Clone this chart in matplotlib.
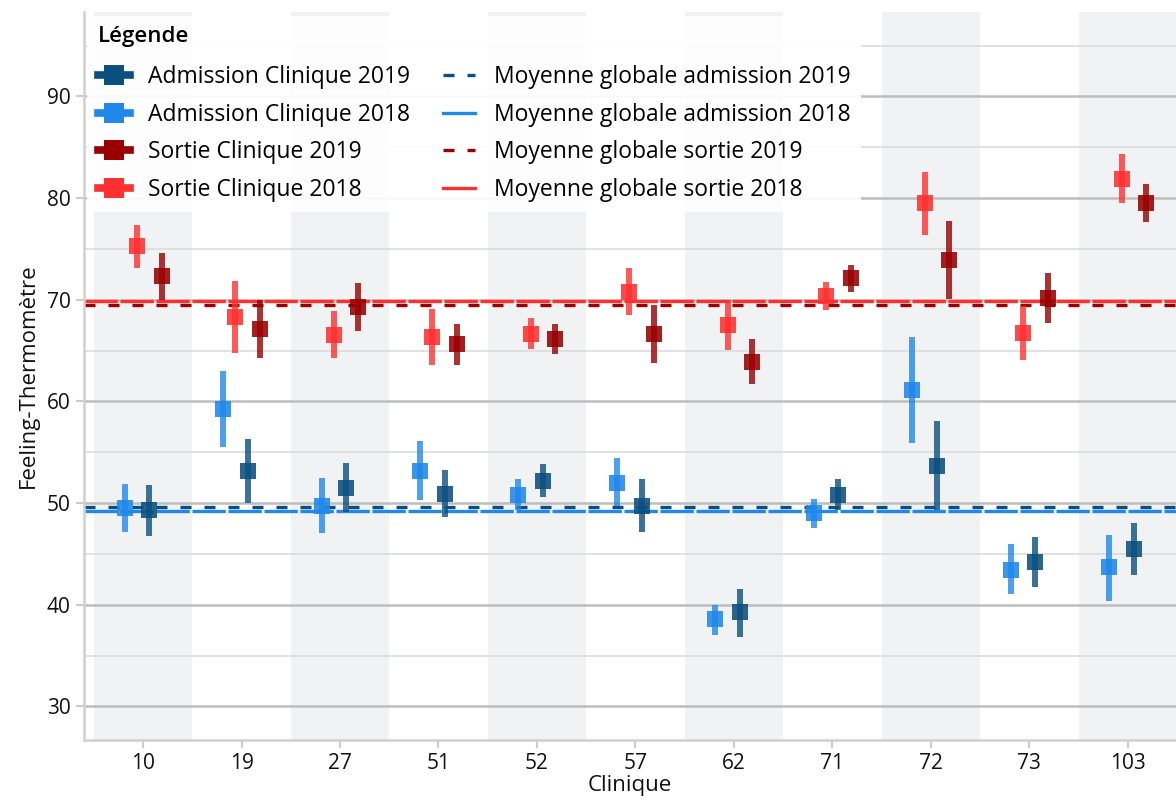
import matplotlib

matplotlib.use("Agg")
import matplotlib.pyplot as plt
import numpy as np
from matplotlib.lines import Line2D

# ---- data -----------------------------------------------------------------
CLINIQUES = ["10", "19", "27", "51", "52", "57", "62", "71", "72", "73", "103"]

ADM_2018 = [49.55, 59.25, 49.7, 53.2, 50.8, 52.0, 38.6, 49.0, 61.1, 43.45, 43.7]
ADM_2018_LO = [47.2, 55.5, 47.1, 50.3, 49.3, 49.7, 37.05, 47.5, 55.9, 41.05, 40.4]
ADM_2018_HI = [51.9, 63.0, 52.5, 56.1, 52.35, 54.4, 40.0, 50.4, 66.3, 46.0, 46.85]

ADM_2019 = [49.3, 53.2, 51.5, 50.9, 52.2, 49.75, 39.3, 50.75, 53.65, 44.2, 45.5]
ADM_2019_LO = [46.8, 50.05, 49.1, 48.6, 50.6, 47.2, 36.85, 49.3, 49.3, 41.7, 42.95]
ADM_2019_HI = [51.8, 56.3, 53.9, 53.3, 53.8, 52.35, 41.5, 52.35, 58.1, 46.7, 48.0]

SORTIE_2018 = [75.3, 68.3, 66.5, 66.35, 66.6, 70.8, 67.5, 70.35, 79.5, 66.75, 81.85]
SORTIE_2018_LO = [73.1, 64.8, 64.3, 63.6, 65.2, 68.5, 65.1, 69.0, 76.4, 64.1, 79.55]
SORTIE_2018_HI = [77.4, 71.8, 68.9, 69.1, 68.2, 73.1, 70.0, 71.7, 82.6, 69.4, 84.3]

SORTIE_2019 = [72.35, 67.1, 69.3, 65.6, 66.1, 66.6, 63.9, 72.15, 73.9, 70.2, 79.5]
SORTIE_2019_LO = [70.0, 64.3, 66.9, 63.6, 64.65, 63.8, 61.7, 70.8, 70.05, 67.7, 77.65]
SORTIE_2019_HI = [74.6, 70.0, 71.6, 67.6, 67.6, 69.5, 66.1, 73.45, 77.75, 72.65, 81.4]

MEAN_ADM_2019 = 49.6
MEAN_ADM_2018 = 49.2
MEAN_SORTIE_2019 = 69.45
MEAN_SORTIE_2018 = 69.85

# ---- style ----------------------------------------------------------------
COL_ADM_2019 = "#0b4f7f"
COL_ADM_2018 = "#1f88ea"
COL_SORTIE_2019 = "#990000"
COL_SORTIE_2018 = "#ff3030"
BAND_COLOR = "#f1f2f4"

FONT = ["Open Sans", "DejaVu Sans"]
plt.rcParams["font.family"] = FONT

fig = plt.figure(figsize=(11.76, 8.06), dpi=100)
ax = fig.add_axes([0.0714, 0.082, 0.9286, 0.903])

x = np.arange(len(CLINIQUES))
xmin, xmax = -0.6, 10.49
ymin, ymax = 26.7, 98.3

# alternating background bands
for i in range(0, len(CLINIQUES), 2):
    ax.axvspan(i - 0.5, i + 0.5, color=BAND_COLOR, zorder=0, lw=0)

# grid
for v in range(30, 100, 10):
    ax.axhline(v, color="#bdbdbd", lw=1.8, zorder=1)
for v in range(35, 100, 10):
    ax.axhline(v, color="#dcdcdc", lw=1.2, zorder=1)

# global means
seg = (0, (10, 0.8))
dash = (0, (3.3, 3.9))
ax.axhline(MEAN_ADM_2018, color=COL_ADM_2018, lw=2.4, ls=seg, zorder=2)
ax.axhline(MEAN_ADM_2019, color=COL_ADM_2019, lw=2.4, ls=dash, zorder=2)
ax.axhline(MEAN_SORTIE_2018, color=COL_SORTIE_2018, lw=2.4, ls=seg, zorder=2)
ax.axhline(MEAN_SORTIE_2019, color=COL_SORTIE_2019, lw=2.4, ls=dash, zorder=2)

series = [
    (ADM_2018, ADM_2018_LO, ADM_2018_HI, COL_ADM_2018, -0.1875),
    (SORTIE_2018, SORTIE_2018_LO, SORTIE_2018_HI, COL_SORTIE_2018, -0.0625),
    (ADM_2019, ADM_2019_LO, ADM_2019_HI, COL_ADM_2019, 0.0625),
    (SORTIE_2019, SORTIE_2019_LO, SORTIE_2019_HI, COL_SORTIE_2019, 0.1875),
]
for mean, lo, hi, col, off in series:
    mean = np.array(mean)
    yerr = [mean - np.array(lo), np.array(hi) - mean]
    ax.errorbar(x + off, mean, yerr=yerr, fmt="none", ecolor=col,
                elinewidth=4.3, capsize=0, alpha=0.8, zorder=3)
    ax.plot(x + off, mean, ls="none", marker="s", ms=11.5, mew=0,
            color=col, alpha=0.88, zorder=4)

ax.set_xlim(xmin, xmax)
ax.set_ylim(ymin, ymax)
ax.set_xticks(x)
ax.set_xticklabels(CLINIQUES)
ax.set_yticks(range(30, 100, 10))
ax.tick_params(axis="both", labelsize=15, colors="#cccccc", labelcolor="#111111",
               length=6, width=1.5)
for side in ["top", "right"]:
    ax.spines[side].set_visible(False)
for side in ["left", "bottom"]:
    ax.spines[side].set_color("#d0d0d0")
    ax.spines[side].set_linewidth(1.8)

ax.set_xlabel("Clinique", fontsize=16, labelpad=1, color="#111111")
ax.set_ylabel("Feeling-Thermomètre", fontsize=16, labelpad=6, color="#111111")

handles = [
    Line2D([0], [0], color=COL_ADM_2019, lw=5.5, marker="s", ms=14, mew=0),
    Line2D([0], [0], color=COL_ADM_2018, lw=5.5, marker="s", ms=14, mew=0),
    Line2D([0], [0], color=COL_SORTIE_2019, lw=5.5, marker="s", ms=14, mew=0),
    Line2D([0], [0], color=COL_SORTIE_2018, lw=5.5, marker="s", ms=14, mew=0),
    Line2D([0], [0], color=COL_ADM_2019, lw=2.4, ls=dash),
    Line2D([0], [0], color=COL_ADM_2018, lw=2.4),
    Line2D([0], [0], color=COL_SORTIE_2019, lw=2.4, ls=dash),
    Line2D([0], [0], color=COL_SORTIE_2018, lw=2.4),
]
labels = [
    "Admission Clinique 2019",
    "Admission Clinique 2018",
    "Sortie Clinique 2019",
    "Sortie Clinique 2018",
    "Moyenne globale admission 2019",
    "Moyenne globale admission 2018",
    "Moyenne globale sortie 2019",
    "Moyenne globale sortie 2018",
]
leg = ax.legend(
    handles, labels, ncol=2, loc="upper left", bbox_to_anchor=(0.0, 1.0),
    fontsize=16.5, title="Légende", title_fontproperties={"size": 16, "weight": "semibold"},
    alignment="left", frameon=True, framealpha=0.92, edgecolor="none",
    facecolor="white", fancybox=False, handlelength=1.4, handletextpad=0.8,
    labelspacing=0.6, columnspacing=1.45, borderpad=0.45, borderaxespad=0.15,
)
leg._legend_box.sep = 13
leg.set_zorder(10)

fig.savefig("out.png", dpi=100)
